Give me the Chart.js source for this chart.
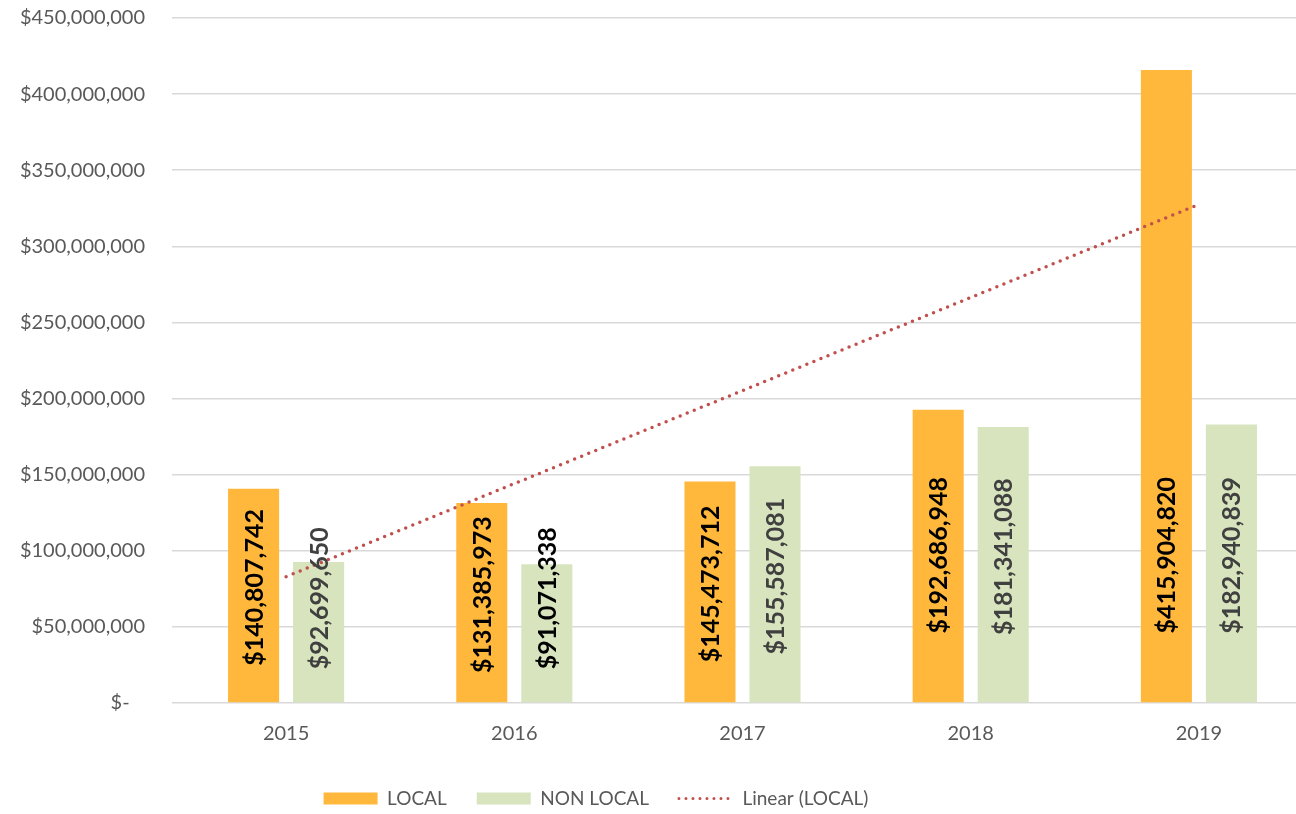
<!DOCTYPE html>
<html>
<head>
<meta charset="utf-8">
<script src="https://cdn.jsdelivr.net/npm/chart.js@4/dist/chart.umd.min.js"></script>
<style>
  html, body { margin: 0; padding: 0; background: #fff; overflow: hidden; }
  #wrap { position: relative; width: 1313px; height: 814px; }
</style>
</head>
<body>
<div id="wrap"><canvas id="chart"></canvas></div>
<script>
// ── Data ──────────────────────────────────────────────────────────────────────
const years    = ['2015', '2016', '2017', '2018', '2019'];
const local    = [140807742, 131385973, 145473712, 192686948, 415904820];
const nonLocal = [92699650, 91071338, 155587081, 181341088, 182940839];
const yTicks   = [0, 50e6, 100e6, 150e6, 200e6, 250e6, 300e6, 350e6, 400e6, 450e6];

// label colours (one NON LOCAL label is black in the original)
const localLabelColors    = ['#000', '#000', '#000', '#000', '#000'];
const nonLocalLabelColors = ['#404040', '#000', '#404040', '#404040', '#404040'];

const ORANGE = '#FFB83C';
const GREEN  = '#D7E4BD';
const TREND  = '#C0504D';
const FONT   = "Lato, 'Open Sans', sans-serif";

// ── Linear trendline on LOCAL (least squares, like Excel) ────────────────────
function linearTrend(vals) {
  const n = vals.length;
  const xs = vals.map((_, i) => i + 1);
  const mx = xs.reduce((a, b) => a + b, 0) / n;
  const my = vals.reduce((a, b) => a + b, 0) / n;
  let num = 0, den = 0;
  xs.forEach((x, i) => { num += (x - mx) * (vals[i] - my); den += (x - mx) * (x - mx); });
  const slope = num / den;
  return xs.map(x => my + slope * (x - mx));
}
const trend = linearTrend(local);

function money(v) { return '$' + Math.round(v).toLocaleString('en-US'); }

// ── Rotated data labels drawn inside the bars ─────────────────────────────────
const barLabels = {
  id: 'barLabels',
  afterDatasetsDraw(chart) {
    const ctx = chart.ctx;
    [[0, local, localLabelColors], [1, nonLocal, nonLocalLabelColors]].forEach(([di, vals, cols]) => {
      const meta = chart.getDatasetMeta(di);
      meta.data.forEach((bar, i) => {
        const mid = (bar.y + bar.base) / 2;
        const cy = Math.min(bar.base - 104, Math.max(bar.base - 147, mid - 8));
        ctx.save();
        ctx.translate(bar.x + 1, cy);
        ctx.rotate(-Math.PI / 2);
        ctx.font = 'bold 25px ' + FONT;
        ctx.fillStyle = cols[i];
        ctx.textAlign = 'center';
        ctx.textBaseline = 'middle';
        ctx.fillText(money(vals[i]), 0, 0);
        ctx.restore();
      });
    });
  }
};

// legend sits left of centre in the original
const legendShift = {
  id: 'legendShift',
  afterLayout(chart) {
    const lg = chart.legend;
    const pad = lg.options.labels.padding;
    const cur = (lg.left + pad + lg.right - lg.lineWidths[0]) / 2;
    const contentW = lg.lineWidths[0] - pad;
    const dx = (596 - contentW / 2) - cur;
    lg.left += dx; lg.right += dx;
  }
};

new Chart(document.getElementById('chart'), {
  type: 'bar',
  data: {
    labels: years,
    datasets: [
      { label: 'LOCAL', data: local, backgroundColor: ORANGE, order: 1,
        categoryPercentage: 0.57, barPercentage: 0.785 },
      { label: 'NON LOCAL', data: nonLocal, backgroundColor: GREEN, order: 1,
        categoryPercentage: 0.57, barPercentage: 0.785 },
      { type: 'line', label: 'Linear (LOCAL)', data: trend, order: 0,
        borderColor: TREND, borderWidth: 3.5, borderDash: [0, 7.6], borderCapStyle: 'round',
        pointRadius: 0, fill: false, tension: 0 },
    ]
  },
  options: {
    responsive: true,
    maintainAspectRatio: false,
    animation: false,
    layout: { padding: { top: 18, left: 0, right: 0, bottom: -4 } },
    scales: {
      x: {
        grid: { display: false, drawTicks: false },
        border: { display: false },
        ticks: { color: '#595959', font: { family: FONT, size: 20 }, padding: 19 },
        afterFit: s => { s.height = 56; },
      },
      y: {
        min: 0, max: 450e6,
        afterBuildTicks: s => { s.ticks = yTicks.map(v => ({ value: v })); },
        grid: { color: '#D9D9D9', lineWidth: 1.5, drawTicks: false },
        border: { display: false },
        ticks: {
          color: '#595959', font: { family: FONT, size: 20 }, padding: 27,
          callback: v => v === 0 ? '$-   ' : money(v),
        },
        afterFit: s => { s.width = 172; s.paddingTop = 0; s.paddingBottom = 0; },
      }
    },
    plugins: {
      tooltip: { enabled: false },
      legend: {
        position: 'bottom',
        labels: {
          color: '#595959',
          font: { family: FONT, size: 19 },
          usePointStyle: true,
          pointStyleWidth: 54,
          boxHeight: 12,
          padding: 30,
          generateLabels: chart => chart.data.datasets.map((ds, i) => ds.type === 'line' ? {
            text: ds.label, datasetIndex: i, pointStyle: 'line',
            strokeStyle: TREND, fillStyle: TREND, lineWidth: 3,
            lineDash: [0, 7], lineCap: 'round', fontColor: '#595959',
          } : {
            text: ds.label, datasetIndex: i, pointStyle: 'rect',
            fillStyle: ds.backgroundColor, strokeStyle: ds.backgroundColor, lineWidth: 0,
            fontColor: '#595959',
          }),
        }
      }
    }
  },
  plugins: [barLabels, legendShift]
});
</script>
</body>
</html>
